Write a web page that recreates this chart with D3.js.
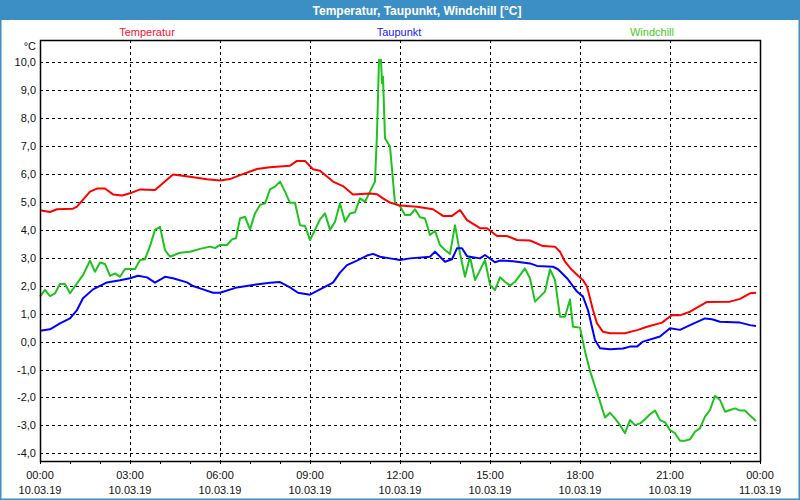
<!DOCTYPE html>
<html>
<head>
<meta charset="utf-8">
<script src="https://cdn.jsdelivr.net/npm/d3@7"></script>
<style>
  body { margin: 0; background: #fff; }
  svg { display: block; font-family: "Liberation Sans", Arial, sans-serif; }
</style>
</head>
<body>
<div id="chart"></div>
<script>
// data: minutes after 00:00 on 10.03.19, values in °C
var tempMin = [0, 20, 34, 66, 74, 100, 114, 130, 146, 164, 180, 200, 230, 266, 300, 334, 360, 380, 400, 434, 460, 500, 514, 530, 546, 560, 586, 606, 626, 660, 674, 686, 700, 720, 754, 786, 806, 824, 840, 854, 880, 894, 914, 934, 954, 980, 1006, 1030, 1040, 1050, 1064, 1086, 1094, 1106, 1114, 1126, 1140, 1170, 1196, 1214, 1244, 1264, 1280, 1300, 1334, 1380, 1400, 1420, 1432];
var tempVal = [4.70, 4.64, 4.74, 4.76, 4.83, 5.37, 5.48, 5.48, 5.27, 5.23, 5.31, 5.45, 5.43, 5.98, 5.90, 5.81, 5.77, 5.82, 5.96, 6.18, 6.24, 6.30, 6.47, 6.47, 6.17, 6.12, 5.73, 5.57, 5.27, 5.30, 5.28, 5.13, 4.98, 4.87, 4.83, 4.74, 4.50, 4.50, 4.71, 4.35, 4.06, 4.06, 3.78, 3.78, 3.64, 3.62, 3.42, 3.40, 3.22, 2.86, 2.56, 2.20, 1.97, 1.13, 0.65, 0.35, 0.30, 0.30, 0.42, 0.53, 0.68, 0.95, 0.94, 1.07, 1.42, 1.43, 1.53, 1.73, 1.75];

var dewMin = [0, 20, 40, 60, 74, 86, 106, 134, 160, 180, 196, 214, 230, 250, 266, 294, 306, 326, 346, 360, 394, 426, 460, 480, 500, 516, 540, 560, 586, 600, 614, 634, 654, 666, 680, 700, 720, 740, 780, 790, 810, 824, 834, 844, 854, 880, 890, 910, 920, 946, 980, 994, 1026, 1036, 1054, 1074, 1086, 1096, 1110, 1120, 1140, 1166, 1180, 1194, 1206, 1240, 1260, 1280, 1300, 1330, 1344, 1360, 1400, 1420, 1432];
var dewVal = [0.39, 0.44, 0.65, 0.83, 1.13, 1.55, 1.87, 2.12, 2.20, 2.27, 2.36, 2.30, 2.11, 2.32, 2.27, 2.12, 1.99, 1.87, 1.75, 1.75, 1.94, 2.03, 2.11, 2.13, 1.94, 1.75, 1.68, 1.87, 2.11, 2.47, 2.74, 2.90, 3.08, 3.14, 3.04, 2.98, 2.92, 2.98, 3.04, 3.22, 2.86, 2.95, 3.34, 3.34, 3.06, 2.98, 3.10, 2.84, 2.90, 2.88, 2.80, 2.71, 2.68, 2.59, 2.27, 1.79, 1.61, 1.13, 0.06, -0.24, -0.27, -0.25, -0.18, -0.18, 0.00, 0.18, 0.48, 0.42, 0.59, 0.83, 0.80, 0.71, 0.68, 0.59, 0.56];

var chillMin = [0, 10, 20, 30, 40, 50, 60, 74, 86, 100, 110, 120, 130, 140, 150, 160, 170, 190, 200, 210, 220, 230, 240, 250, 260, 280, 300, 320, 340, 350, 360, 374, 384, 392, 400, 410, 420, 430, 440, 450, 460, 470, 480, 490, 500, 510, 520, 530, 540, 550, 560, 570, 580, 590, 600, 610, 620, 630, 640, 650, 660, 670, 674, 678, 682, 684, 686, 690, 700, 710, 720, 730, 740, 750, 760, 770, 780, 790, 800, 810, 820, 830, 840, 850, 860, 870, 880, 890, 900, 910, 920, 930, 940, 950, 960, 970, 980, 990, 1000, 1010, 1020, 1030, 1040, 1050, 1060, 1066, 1080, 1090, 1100, 1110, 1120, 1130, 1140, 1150, 1160, 1170, 1180, 1190, 1200, 1210, 1220, 1230, 1240, 1250, 1260, 1270, 1280, 1290, 1300, 1310, 1320, 1330, 1340, 1350, 1360, 1370, 1380, 1390, 1400, 1410, 1420, 1432];
var chillVal = [1.61, 1.85, 1.63, 1.73, 2.06, 2.06, 1.73, 2.09, 2.38, 2.90, 2.50, 2.83, 2.78, 2.35, 2.44, 2.32, 2.60, 2.60, 2.92, 2.95, 3.42, 4.00, 4.11, 3.28, 3.04, 3.18, 3.22, 3.32, 3.40, 3.35, 3.46, 3.46, 3.66, 3.70, 4.41, 4.47, 4.02, 4.59, 4.89, 4.95, 5.45, 5.55, 5.73, 5.37, 4.97, 4.97, 4.17, 4.14, 3.64, 4.00, 4.38, 4.59, 4.00, 4.29, 4.95, 4.29, 4.59, 4.63, 5.13, 5.01, 5.37, 5.73, 7.46, 10.08, 10.08, 9.25, 9.48, 7.28, 6.98, 4.95, 4.85, 4.53, 4.53, 4.74, 4.45, 4.41, 3.82, 3.97, 3.46, 3.28, 3.14, 4.17, 3.16, 2.32, 3.04, 2.20, 2.56, 2.92, 2.03, 1.85, 2.30, 2.14, 2.00, 2.14, 2.38, 2.62, 2.27, 1.43, 1.61, 1.79, 2.59, 2.20, 0.89, 0.89, 1.51, 0.53, 0.50, -0.35, -1.05, -1.61, -2.15, -2.72, -2.55, -2.75, -2.99, -3.28, -2.81, -2.99, -2.93, -2.78, -2.60, -2.47, -2.81, -2.89, -3.17, -3.28, -3.55, -3.55, -3.50, -3.23, -3.10, -2.69, -2.45, -1.94, -2.09, -2.51, -2.45, -2.39, -2.47, -2.47, -2.65, -2.84];

var yTicks = [-4, -3, -2, -1, 0, 1, 2, 3, 4, 5, 6, 7, 8, 9, 10];
var seriesNames = ["Temperatur", "Taupunkt", "Windchill"];
var lineColors = ["#ff0000", "#0000ff", "#1ec31e"];
var labelColors = ["#ff1030", "#2020ff", "#44cc22"];

var W = 800, H = 500;
var margin = {top: 40, right: 40, bottom: 39, left: 40};
var start = new Date(2019, 2, 10, 0, 0);
var end = new Date(2019, 2, 11, 0, 0);

var svg = d3.select("#chart").append("svg")
  .attr("width", W)
  .attr("height", H);

// window frame + title bar
svg.append("rect").attr("x", 0).attr("y", 0).attr("width", W).attr("height", H)
  .attr("fill", "#fff").attr("stroke", "#3c8fc5").attr("stroke-width", 3);
svg.append("rect").attr("x", 0).attr("y", 0).attr("width", W).attr("height", 20)
  .attr("fill", "#3c8fc5");
svg.append("text")
  .attr("x", 417).attr("y", 14.5)
  .attr("text-anchor", "middle")
  .attr("fill", "#fff")
  .style("font-weight", "bold")
  .style("font-size", "12px")
  .text("Temperatur, Taupunkt, Windchill [°C]");

var x = d3.scaleTime().domain([start, end]).range([margin.left, W - margin.right]);
var y = d3.scaleLinear().domain([-4.276, 10.8]).range([H - margin.bottom, margin.top]);

// horizontal grid
svg.append("g").selectAll("line")
  .data(yTicks)
  .join("line")
  .attr("x1", margin.left).attr("x2", W - margin.right)
  .attr("y1", d => Math.round(y(d)) + 0.5).attr("y2", d => Math.round(y(d)) + 0.5)
  .attr("stroke", "#000")
  .attr("stroke-dasharray", "3,3");

// vertical grid every 3 hours
var gridTimes = d3.timeHour.every(3).range(d3.timeHour.offset(start, 3), end);
svg.append("g").selectAll("line")
  .data(gridTimes)
  .join("line")
  .attr("x1", d => Math.round(x(d)) + 0.5).attr("x2", d => Math.round(x(d)) + 0.5)
  .attr("y1", margin.top).attr("y2", H - margin.bottom)
  .attr("stroke", "#000")
  .attr("stroke-dasharray", "3,3");

// y labels
svg.append("g").selectAll("text")
  .data(yTicks)
  .join("text")
  .attr("x", 36)
  .attr("y", d => y(d) + 4)
  .attr("text-anchor", "end")
  .style("font-size", "11px")
  .attr("fill", "#111")
  .text(d => d3.format(".1f")(d).replace(".", ",").replace("−", "-"));

svg.append("text")
  .attr("x", 36).attr("y", 50)
  .attr("text-anchor", "end")
  .style("font-size", "11px")
  .attr("fill", "#111")
  .text("°C");

// x axis: hourly ticks, labels every 3 hours
var xAxis = d3.axisBottom(x)
  .ticks(d3.timeHour.every(1))
  .tickSize(3)
  .tickFormat("");
svg.append("g")
  .attr("transform", `translate(0,${H - margin.bottom})`)
  .call(xAxis)
  .call(g => g.select(".domain").remove());

var labelTimes = d3.timeHour.every(3).range(start, d3.timeMinute.offset(end, 1));
var xl = svg.append("g").selectAll("g")
  .data(labelTimes)
  .join("g")
  .attr("transform", d => `translate(${x(d)},0)`);
xl.append("text")
  .attr("y", 479)
  .attr("text-anchor", "middle")
  .style("font-size", "11px")
  .attr("fill", "#111")
  .text(d => d3.timeFormat("%H:%M")(d));
xl.append("text")
  .attr("y", 494)
  .attr("text-anchor", "middle")
  .style("font-size", "11px")
  .attr("fill", "#111")
  .text(d => d3.timeFormat("%d.%m.%y")(d));

// lines
function toPoints(mins, vals) {
  return mins.map((m, i) => [d3.timeMinute.offset(start, m), vals[i]]);
}
var series = [
  toPoints(tempMin, tempVal),
  toPoints(dewMin, dewVal),
  toPoints(chillMin, chillVal)
];
var line = d3.line()
  .x(d => x(d[0]))
  .y(d => y(d[1]));

// draw windchill first so temperature/dew point sit above
[2, 1, 0].forEach(function (i) {
  svg.append("path")
    .datum(series[i])
    .attr("fill", "none")
    .attr("stroke", lineColors[i])
    .attr("stroke-width", 2)
    .attr("stroke-linejoin", "round")
    .attr("d", line);
});

// plot frame
svg.append("rect")
  .attr("x", margin.left + 0.5).attr("y", margin.top + 0.5)
  .attr("width", W - margin.left - margin.right)
  .attr("height", H - margin.top - margin.bottom)
  .attr("fill", "none")
  .attr("stroke", "#000")
  .attr("stroke-width", 1.5);

// legend labels
var legendX = [147, 399, 652];
svg.append("g").selectAll("text")
  .data(seriesNames)
  .join("text")
  .attr("x", (d, i) => legendX[i])
  .attr("y", 36)
  .attr("text-anchor", "middle")
  .style("font-size", "11px")
  .attr("fill", (d, i) => labelColors[i])
  .text(d => d);
</script>
</body>
</html>
